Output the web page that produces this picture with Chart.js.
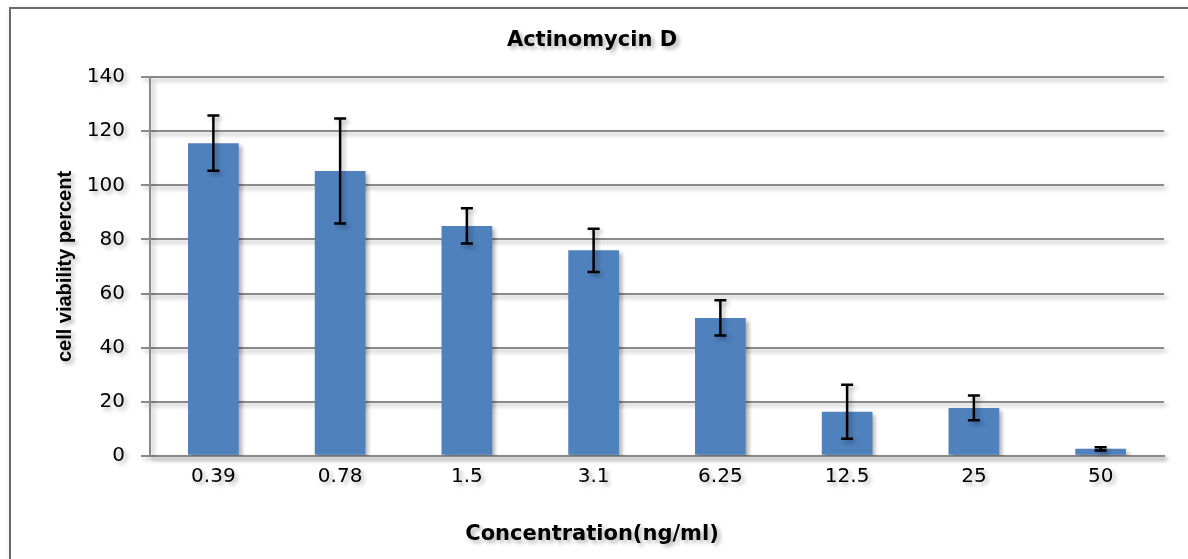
<!DOCTYPE html>
<html>
<head>
<meta charset="utf-8">
<script src="https://cdn.jsdelivr.net/npm/chart.js@4/dist/chart.umd.min.js"></script>
<style>
    html, body { margin: 0; padding: 0; background: #fff; overflow: hidden; }
    #frame {
        position: absolute; left: 9px; top: 7px; width: 1200px; height: 600px;
        border: 2px solid #6a6a6a; box-shadow: 2px 3px 6px rgba(0,0,0,0.25);
    }
    #wrap { position: absolute; left: 0; top: 0; width: 1188px; height: 559px; }
</style>
</head>
<body>
<div id="frame"></div>
<div id="wrap"><canvas id="chart"></canvas></div>
<script>
// --- data ---
const concentrations = ['0.39', '0.78', '1.5', '3.1', '6.25', '12.5', '25', '50'];
const viability = [115.6, 105.3, 85, 76, 51, 16.3, 17.7, 2.6];
const viabilityErr = [10.2, 19.4, 6.5, 8, 6.5, 10, 4.6, 0.6];
const yTicks = [0, 20, 40, 60, 80, 100, 120, 140];

const gridGray = '#8a8a8a';

// soft drop shadow on everything, like the spreadsheet export
const shadowPlugin = {
    id: 'shadow',
    beforeDraw(chart) {
        const ctx = chart.ctx;
        ctx.save();
        ctx.shadowColor = 'rgba(0, 0, 0, 0.3)';
        ctx.shadowBlur = 4;
        ctx.shadowOffsetX = 3;
        ctx.shadowOffsetY = 3;
    },
    afterDraw(chart) {
        chart.ctx.restore();
    }
};

// error bars drawn through the y scale
const errorBarPlugin = {
    id: 'errorBars',
    afterDatasetsDraw(chart) {
        const ctx = chart.ctx;
        const yScale = chart.scales.y;
        const meta = chart.getDatasetMeta(0);
        ctx.save();
        ctx.strokeStyle = '#000';
        ctx.lineWidth = 2.5;
        meta.data.forEach((bar, i) => {
            const v = viability[i];
            const e = viabilityErr[i];
            const top = yScale.getPixelForValue(v + e);
            const bot = yScale.getPixelForValue(v - e);
            const x = bar.x;
            ctx.beginPath();
            ctx.moveTo(x, top);
            ctx.lineTo(x, bot);
            ctx.moveTo(x - 6, top);
            ctx.lineTo(x + 6, top);
            ctx.moveTo(x - 6, bot);
            ctx.lineTo(x + 6, bot);
            ctx.stroke();
        });
        ctx.restore();
    }
};

const ctx = document.getElementById('chart').getContext('2d');
new Chart(ctx, {
    type: 'bar',
    data: {
        labels: concentrations,
        datasets: [{
            data: viability,
            backgroundColor: '#4F81BD',
            borderWidth: 0,
            barPercentage: 0.4,
            categoryPercentage: 1
        }]
    },
    options: {
        responsive: true,
        maintainAspectRatio: false,
        animation: false,
        layout: {
            padding: { left: 20, right: 24, top: 0, bottom: 0 }
        },
        plugins: {
            legend: { display: false },
            tooltip: { enabled: false },
            title: {
                display: true,
                text: 'Actinomycin D',
                color: '#000',
                font: { family: 'DejaVu Sans', size: 21, weight: 'bold' },
                padding: { top: 28, bottom: 24 }
            },
            // x axis title, centred on the whole chart like the original
            subtitle: {
                display: true,
                position: 'bottom',
                text: 'Concentration(ng/ml)',
                color: '#000',
                font: { family: 'DejaVu Sans', size: 21, weight: 'bold' },
                padding: { top: 0, bottom: 12 }
            }
        },
        scales: {
            x: {
                grid: { display: false, drawTicks: false },
                border: { display: true, color: gridGray, width: 2 },
                ticks: {
                    color: '#000',
                    font: { family: 'DejaVu Sans', size: 20 },
                    padding: 9,
                    maxRotation: 0
                },
                afterFit(scale) { scale.height = 66; }
            },
            y: {
                min: 0,
                max: 140,
                afterBuildTicks(scale) {
                    scale.ticks = yTicks.map(v => ({ value: v }));
                },
                grid: { color: gridGray, lineWidth: 2, tickLength: 9 },
                border: { display: true, color: gridGray, width: 2 },
                ticks: {
                    color: '#000',
                    font: { family: 'DejaVu Sans', size: 20 },
                    padding: 16
                },
                title: {
                    display: true,
                    text: 'cell viability percent',
                    color: '#000',
                    font: { family: "'Liberation Sans Narrow', 'Liberation Sans', sans-serif", size: 20, weight: 'bold' },
                    padding: { top: 33, bottom: 0 }
                },
                afterFit(scale) { scale.width = 130; }
            }
        }
    },
    plugins: [shadowPlugin, errorBarPlugin]
});
</script>
</body>
</html>
